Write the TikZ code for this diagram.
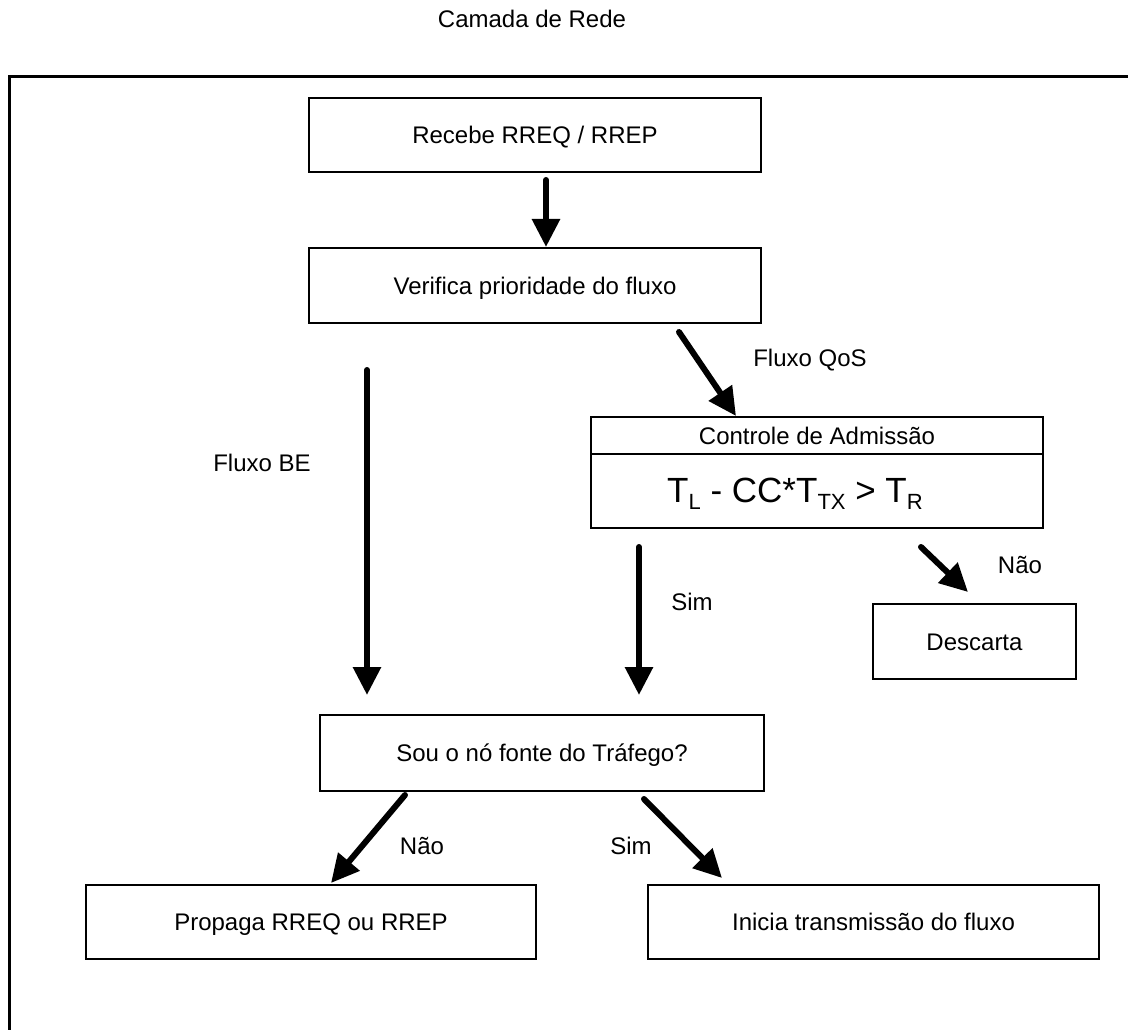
\documentclass[tikz,border=0pt]{standalone}
\usepackage{fontspec}
\setmainfont{Liberation Sans}
\usetikzlibrary{arrows.meta}
\begin{document}
\begin{tikzpicture}[x=1pt,y=-1pt,
  every node/.style={font=\fontsize{24}{28}\selectfont, text height=17.2pt, text depth=0pt, inner sep=0pt},
  box/.style={draw, line width=2pt, anchor=north west},
  flow/.style={line width=6pt, line cap=round, -{Triangle[width=27pt,length=28pt]}},
  lbl/.style={anchor=center}
]
\useasboundingbox (0,0) rectangle (1128,1030);
% outer frame (top and left sides only visible)
\draw[line width=3pt] (9,1040) -- (9,77) -- (1140,77);

\node[lbl] (title) at (532,19) {Camada de Rede};

\node[box, minimum width=452pt, minimum height=74pt] (recebe) at (308,97) {Recebe RREQ / RREP};
\node[box, minimum width=452pt, minimum height=75pt] (verifica) at (308,247) {Verifica prioridade do fluxo};
\node[box, minimum width=452pt, minimum height=37pt] (ctitle) at (590,416) {Controle de Admiss\~ao};
\node[box, minimum width=452pt, minimum height=74pt] (cbody) at (590,453) {};
\node[text height=25pt] (formula) at (795,490) {\fontsize{35}{40}\selectfont T\raisebox{-7pt}{\fontsize{22}{26}\selectfont L} - CC*T\raisebox{-7pt}{\fontsize{22}{26}\selectfont TX} > T\raisebox{-7pt}{\fontsize{22}{26}\selectfont R}};
\node[box, minimum width=203pt, minimum height=75pt] (descarta) at (872,603) {Descarta};
\node[box, minimum width=444pt, minimum height=76pt] (sou) at (319,714) {Sou o nó fonte do Tráfego?};
\node[box, minimum width=450pt, minimum height=74pt] (propaga) at (85,884) {Propaga RREQ ou RREP};
\node[box, minimum width=451pt, minimum height=74pt] (inicia) at (647,884) {Inicia transmissão do fluxo};

% labels
\node[lbl] (lqos) at (810,358) {Fluxo QoS};
\node[lbl] (lbe) at (262,463) {Fluxo BE};
\node[lbl] (lsim1) at (692,602) {Sim};
\node[lbl] (lnao1) at (1020,565) {Não};
\node[lbl] (lnao2) at (422,846) {Não};
\node[lbl] (lsim2) at (631,846) {Sim};

% connectors
\draw[flow] ([xshift=11pt,yshift=-7pt]recebe.south) -- ([xshift=11pt]verifica.north);
\draw[flow] ([xshift=144pt,yshift=-8pt]verifica.south) -- ([xshift=-81pt]ctitle.north);
\draw[flow] ([xshift=-168pt,yshift=-46pt]verifica.south) -- ([xshift=-175pt,yshift=19pt]sou.north);
\draw[flow] ([xshift=-178pt,yshift=-18pt]cbody.south) -- ([xshift=97pt,yshift=19pt]sou.north);
\draw[flow] ([xshift=104pt,yshift=-18pt]cbody.south) -- ([xshift=-6.5pt,yshift=11pt]descarta.north);
\draw[flow] ([xshift=-137pt,yshift=-3pt]sou.south) -- ([xshift=20pt,yshift=1pt]propaga.north);
\draw[flow] ([xshift=102pt,yshift=-7pt]sou.south) -- ([xshift=-151.5pt,yshift=6pt]inicia.north);
\end{tikzpicture}
\end{document}
